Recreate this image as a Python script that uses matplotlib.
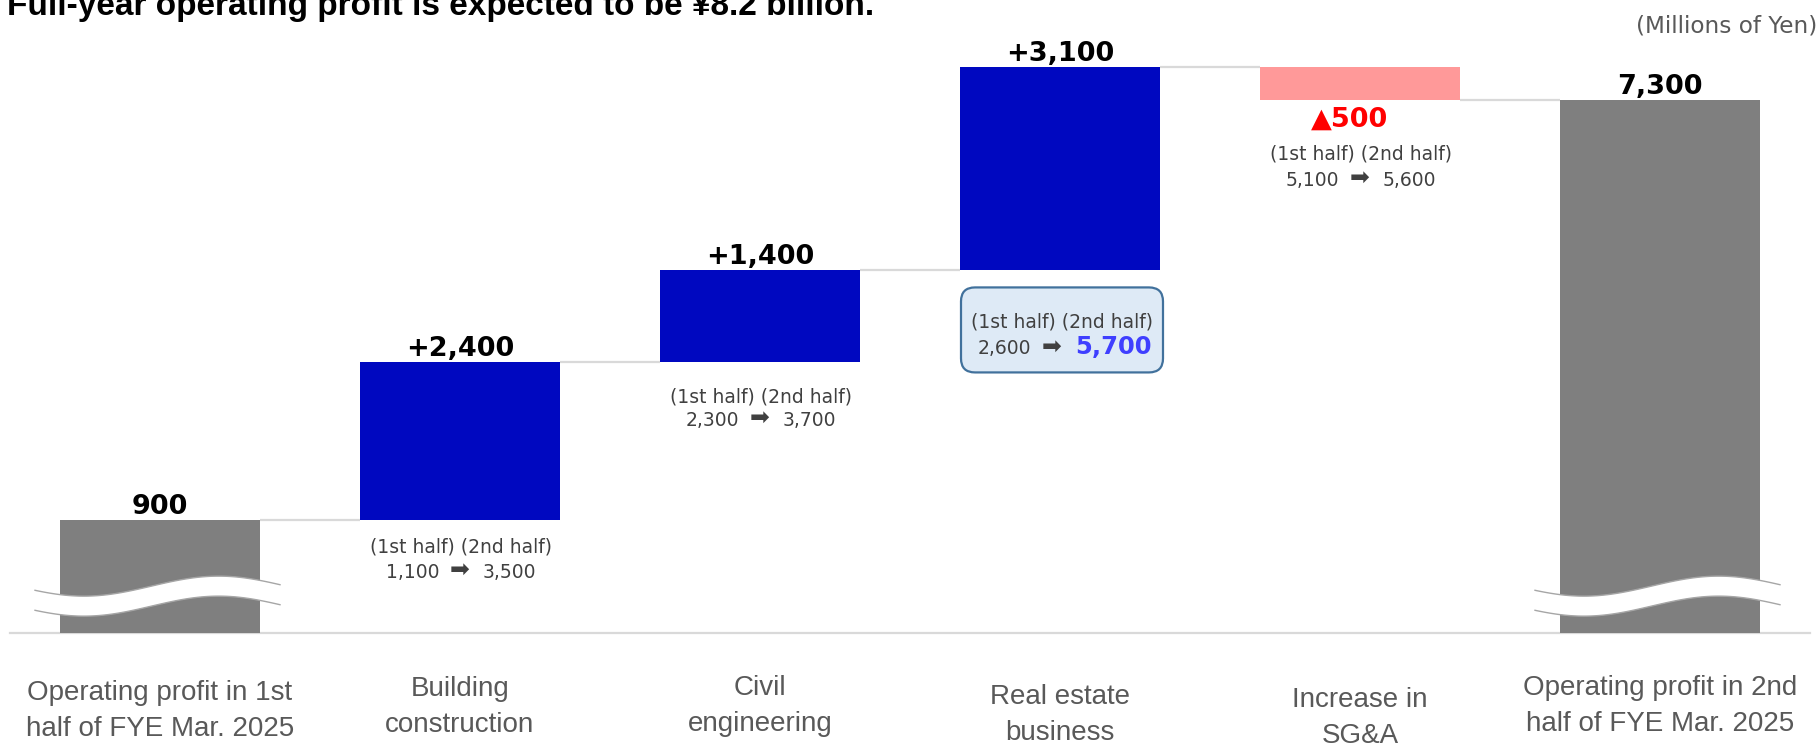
import matplotlib
matplotlib.use("Agg")
import matplotlib.pyplot as plt
import numpy as np
from matplotlib.patches import FancyBboxPatch, Polygon
from matplotlib.transforms import IdentityTransform

# ---- data (millions of yen) ----
categories = [
    "Operating profit in 1st\nhalf of FYE Mar. 2025",
    "Building\nconstruction",
    "Civil\nengineering",
    "Real estate\nbusiness",
    "Increase in\nSG&A",
    "Operating profit in 2nd\nhalf of FYE Mar. 2025",
]
start_total = 900
segment_changes = [2400, 1400, 3100, -500]
first_half = [1100, 2300, 2600, 5100]
second_half = [3500, 3700, 5700, 5600]
highlight_segment = 2  # real estate business

title = "Full-year operating profit is expected to be \u00a58.2 billion."
unit_label = "(Millions of Yen)"

# ---- styling ----
GRAY = "#7F7F7F"
BLUE = "#0008C0"
PINK = "#FF9999"
LINE = "#D9D9D9"
TEXT_DARK = "#404040"
TEXT_CAT = "#595959"
W_PX, H_PX = 1820, 747
BAR_W = 2 / 3
XLIM = (-160 / 300, 1660 / 300)
YLIM = (-2566, 8823)
AXIS_FLOOR = -830  # broken value axis: totals are drawn from here
DX = (XLIM[1] - XLIM[0]) / W_PX
DY = (YLIM[1] - YLIM[0]) / H_PX

fig = plt.figure(figsize=(W_PX / 100, H_PX / 100), dpi=100)
ax = fig.add_axes([0, 0, 1, 1])
ax.set_xlim(*XLIM)
ax.set_ylim(*YLIM)
ax.set_autoscale_on(False)
ax.axis("off")

n = len(categories)
end_total = start_total + sum(segment_changes)

# running levels after each step
levels = [start_total]
for d in segment_changes:
    levels.append(levels[-1] + d)

# total bars
ax.bar([0, n - 1], [start_total - AXIS_FLOOR, end_total - AXIS_FLOOR],
       bottom=AXIS_FLOOR, width=BAR_W, color=GRAY, zorder=2)

# change bars
for k, d in enumerate(segment_changes):
    i = k + 1
    lo = min(levels[k], levels[k + 1])
    ax.bar(i, abs(d), bottom=lo, width=BAR_W,
           color=BLUE if d > 0 else PINK, zorder=2)

# connectors between bars
for i in range(n - 1):
    lvl = levels[i]
    ax.plot([i + BAR_W / 2, i + 1 - BAR_W / 2], [lvl, lvl],
            color=LINE, lw=1.6, zorder=1, solid_capstyle="butt")

# base line
ax.plot([XLIM[0] + 10 * DX, XLIM[0] + 1810 * DX], [AXIS_FLOOR, AXIS_FLOOR],
        color=LINE, lw=1.6, zorder=1)


def axis_break(i):
    """Wavy white band cutting through a total bar."""
    left = i - BAR_W / 2 - 25 * DX
    right = i + BAR_W / 2 + 20 * DX
    t = np.linspace(0, 1, 120)
    xs = left + t * (right - left)
    wave = 10 * np.cos(np.pi * (t - 0.2) / 0.55)
    upper = AXIS_FLOOR + (47 - wave) * DY
    lower = AXIS_FLOOR + (27 - wave) * DY
    poly = np.column_stack([np.r_[xs, xs[::-1]], np.r_[upper, lower[::-1]]])
    ax.add_patch(Polygon(poly, closed=True, fc="white", ec="none", zorder=3))
    ax.plot(xs, upper, color="#A6A6A6", lw=1.0, zorder=3)
    ax.plot(xs, lower, color="#A6A6A6", lw=1.0, zorder=3)


axis_break(0)
axis_break(n - 1)

# value labels
VAL_FS = 19.5
for i, v in [(0, start_total), (n - 1, end_total)]:
    ax.annotate(f"{v:,}", (i, v), xytext=(0, 6), textcoords="offset pixels",
                ha="center", va="baseline", fontsize=VAL_FS, fontweight="bold",
                color="black", zorder=5)
for k, d in enumerate(segment_changes):
    i = k + 1
    if d > 0:
        ax.annotate(f"+{d:,}", (i, levels[k + 1]), xytext=(0, 6),
                    textcoords="offset pixels", ha="center", va="baseline",
                    fontsize=VAL_FS, fontweight="bold", color="black", zorder=5)
    else:
        ax.annotate(f"\u25b2{abs(d):,}", (i, levels[k + 1]), xytext=(-10, -27),
                    textcoords="offset pixels", ha="center", va="baseline",
                    fontsize=VAL_FS, fontweight="bold", color="#FF0000", zorder=5)

# first-half / second-half notes: baseline offsets below each bar (pixels)
NOTE_FS = 13.5
note_offsets = [(-33, -58), (-40, -64), (-57, -84), (-60, -86)]


def half_note(i, y_anchor, off1, off2, head_shift=1, shift=0, right_style=None):
    ax.annotate("(1st half) (2nd half)", (i, y_anchor), xytext=(head_shift, off1),
                textcoords="offset pixels", ha="center", va="baseline",
                fontsize=NOTE_FS, color=TEXT_DARK, zorder=6)
    k = i - 1
    ax.annotate(f"{first_half[k]:,}", (i, y_anchor), xytext=(shift - 21, off2),
                textcoords="offset pixels", ha="right", va="baseline",
                fontsize=NOTE_FS, color=TEXT_DARK, zorder=6)
    ax.annotate("\u27a1", (i, y_anchor), xytext=(shift, off2 + 1),
                textcoords="offset pixels", ha="center", va="baseline",
                fontsize=17, color=TEXT_DARK, zorder=6)
    style = right_style or dict(fontsize=NOTE_FS, color=TEXT_DARK)
    ax.annotate(f"{second_half[k]:,}", (i, y_anchor), xytext=(shift + 23, off2),
                textcoords="offset pixels", ha="left", va="baseline",
                zorder=6, **style)


for k, d in enumerate(segment_changes):
    i = k + 1
    bottom = min(levels[k], levels[k + 1])
    off1, off2 = note_offsets[k]
    if k == highlight_segment:
        xd, yd = ax.transData.transform((i, bottom))
        box = FancyBboxPatch((xd - 99, yd - 102), 202, 85,
                             boxstyle="round,pad=0,rounding_size=14",
                             transform=IdentityTransform(),
                             fc="#DEEAF6", ec="#41719C", lw=1.6, zorder=4)
        ax.add_patch(box)
        half_note(i, bottom, off1, off2, head_shift=2, shift=-8,
                  right_style=dict(fontsize=17.5, fontweight="bold",
                                   color="#3F3FFF"))
    else:
        half_note(i, bottom, off1, off2)

# category labels
label_mid_px = [711, 707, 706, 715, 718, 706]
for i, (lab, ypx) in enumerate(zip(categories, label_mid_px)):
    xpx = 160 + 300 * i
    fig.text(xpx / W_PX, 1 - ypx / H_PX, lab, ha="center", va="center",
             fontsize=20, color=TEXT_CAT, family="Liberation Sans",
             linespacing=1.5, multialignment="center")

# title and unit
fig.text(7 / W_PX, 1 - 15 / H_PX, title, ha="left", va="baseline",
         fontsize=24, fontweight="bold", family="Liberation Sans", color="black")
fig.text(1817 / W_PX, 1 - 26 / H_PX, unit_label, ha="right", va="center",
         fontsize=16.7, color=TEXT_CAT)

fig.savefig("out.png", dpi=100, facecolor="white")
